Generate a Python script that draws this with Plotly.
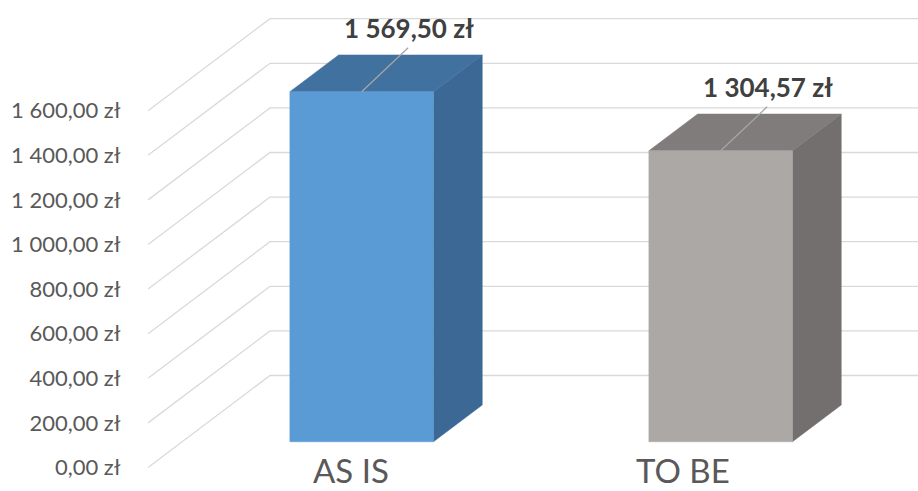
import plotly.graph_objects as go

# --- data -------------------------------------------------------------
categories = ["AS IS", "TO BE"]
values = [1569.50, 1304.57]
tick_values = [0, 200, 400, 600, 800, 1000, 1200, 1400, 1600]

# --- styling ----------------------------------------------------------
front_colors = ["#5B9BD5", "#ABA8A6"]
side_colors = ["#3B6895", "#726F6E"]
top_colors = ["#41719E", "#7F7C7B"]
grid_color = "#D9D9D9"
font_family = "Lato, 'Open Sans', sans-serif"

# --- 3D projection setup (x axis in pixels, y axis in value units) ----
W, H = 918, 491
LEFT = 148                 # front-left corner of the side wall
PX_PER_UNIT = 0.2230       # vertical pixels per currency unit
ZERO_PX = 467.5            # screen y of the front zero line
DEPTH_DX = 122             # horizontal shift from front to back wall (px)
DEPTH_DY_PX = 92           # vertical shift from front to back wall (px)
DEPTH_DY = DEPTH_DY_PX / PX_PER_UNIT
CAT_W = 359                # width of one category slot on the floor (px)
BAR_FRAC = 0.4             # bar width relative to the slot
D0, D1 = 0.28, 0.68        # bar depth span (fraction of the wall depth)

x_range = [0, W - LEFT]
y_range = [(ZERO_PX - H) / PX_PER_UNIT, ZERO_PX / PX_PER_UNIT]


def px_to_y(py):
    return (ZERO_PX - py) / PX_PER_UNIT


def proj(x, v, d):
    """Map a floor x position, a value and a depth to plot coordinates."""
    return x + d * DEPTH_DX, v + d * DEPTH_DY


def fmt_pln(v):
    s = f"{v:,.2f}".replace(",", " ").replace(".", ",")
    return s + " zł"


fig = go.Figure()

# gridlines: short diagonal on the side wall + horizontal on the back wall
gx, gy = [], []
for v in tick_values:
    x0, y0 = proj(0, v, 0)
    x1, y1 = proj(0, v, 1)
    gx += [x0, x1, x_range[1] + 50, None]
    gy += [y0, y1, y1, None]
fig.add_trace(go.Scatter(x=gx, y=gy, mode="lines",
                         line=dict(color=grid_color, width=1.3),
                         hoverinfo="skip", showlegend=False, cliponaxis=True))


def poly(points, color):
    xs = [p[0] for p in points] + [points[0][0]]
    ys = [p[1] for p in points] + [points[0][1]]
    fig.add_trace(go.Scatter(x=xs, y=ys, mode="lines", fill="toself",
                             fillcolor=color, line=dict(color=color, width=0.5),
                             hoverinfo="skip", showlegend=False))


bw = CAT_W * BAR_FRAC
for i, (cat, v) in enumerate(zip(categories, values)):
    cx = (i + 0.5) * CAT_W
    xl, xr = cx - bw / 2, cx + bw / 2
    # right side face
    poly([proj(xr, 0, D0), proj(xr, 0, D1), proj(xr, v, D1), proj(xr, v, D0)],
         side_colors[i])
    # top face
    poly([proj(xl, v, D0), proj(xr, v, D0), proj(xr, v, D1), proj(xl, v, D1)],
         top_colors[i])
    # front face
    poly([proj(xl, 0, D0), proj(xr, 0, D0), proj(xr, v, D0), proj(xl, v, D0)],
         front_colors[i])

    # data label with leader line to the middle of the front top edge
    hx, hy = proj(cx, v, D0)
    lead_dx, lead_dy = 46.5, 44          # px
    text_dx, text_dy = 47.5, 64          # px
    fig.add_trace(go.Scatter(x=[hx, hx + lead_dx],
                             y=[hy, hy + lead_dy / PX_PER_UNIT],
                             mode="lines", line=dict(color="#A6A6A6", width=1.3),
                             hoverinfo="skip", showlegend=False))
    fig.add_annotation(x=hx + text_dx, y=hy + text_dy / PX_PER_UNIT,
                       text=f"<b>{fmt_pln(v)}</b>", showarrow=False,
                       xanchor="center", yanchor="middle",
                       font=dict(family=font_family, size=26, color="#404040"))

    # category label along the front edge (slight perspective pull to centre)
    mid = len(categories) * CAT_W / 2
    lx = mid + 10 + (cx - mid) * 0.925
    fig.add_annotation(x=lx, y=px_to_y(H - 0.5), text=cat, showarrow=False,
                       xanchor="center", yanchor="bottom", borderpad=0,
                       font=dict(family=font_family, size=33, color="#595959"))

fig.update_layout(
    width=W, height=H,
    margin=dict(l=LEFT, r=0, t=0, b=0),
    paper_bgcolor="white", plot_bgcolor="white",
    showlegend=False,
    xaxis=dict(range=x_range, visible=False, fixedrange=True),
    yaxis=dict(range=y_range, tickvals=tick_values,
               ticktext=[fmt_pln(v) for v in tick_values],
               showgrid=False, zeroline=False, showline=False,
               ticks="outside", ticklen=22, tickcolor="rgba(0,0,0,0)",
               tickfont=dict(family=font_family, size=22, color="#595959"),
               fixedrange=True),
)

fig.write_html("out.html")
